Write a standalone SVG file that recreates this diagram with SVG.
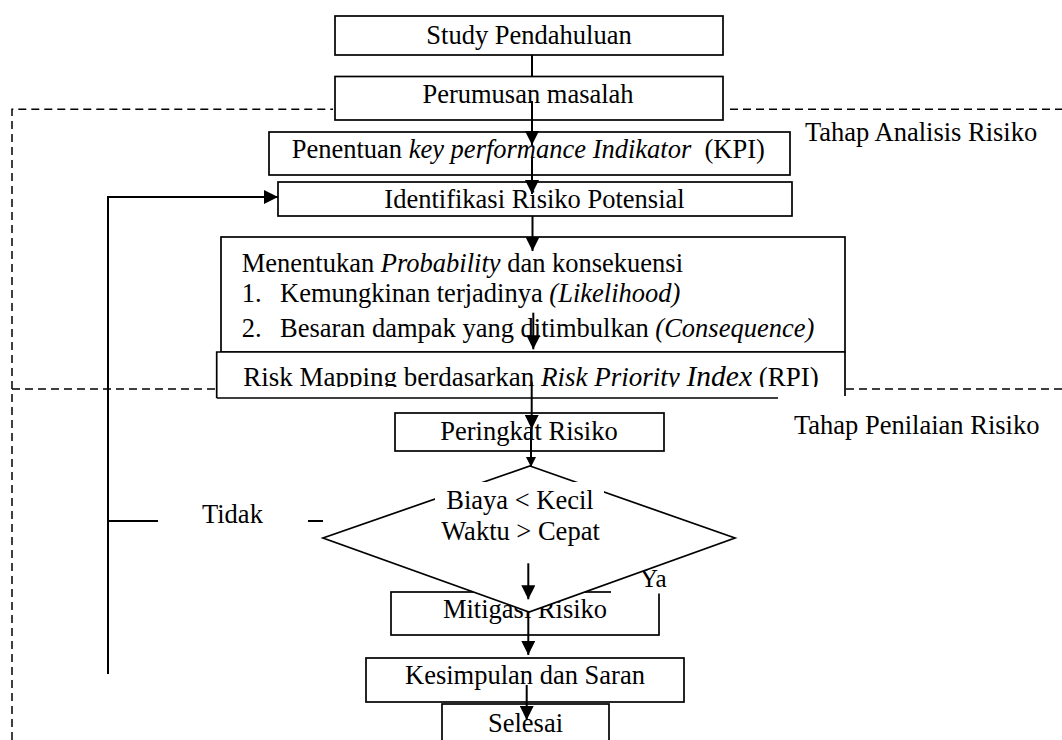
<svg xmlns="http://www.w3.org/2000/svg" width="1062" height="740" viewBox="0 0 1062 740">
<style>
.t{font-family:"Liberation Serif","Times New Roman",serif;font-size:26.5px;fill:#000}
.c{text-anchor:middle}
.i{font-style:italic}
.box{fill:#fff;stroke:#000;stroke-width:1.7}
.ln{fill:none;stroke:#000;stroke-width:1.7}
.dash{fill:none;stroke:#000;stroke-width:1.5;stroke-dasharray:8 5}
.con{fill:none;stroke:#000;stroke-width:2}
.ar{marker-end:url(#arr)}
</style>
<defs>
<marker id="arr" viewBox="0 0 14 14" refX="14" refY="7" markerWidth="14" markerHeight="14" markerUnits="userSpaceOnUse" orient="auto"><path d="M0,0 L14,7 L0,14 z" fill="#000"/></marker>
<marker id="arrs" viewBox="0 0 14 14" refX="14" refY="7" markerWidth="10" markerHeight="11" markerUnits="userSpaceOnUse" orient="auto"><path d="M0,0 L14,7 L0,14 z" fill="#000"/></marker>
<clipPath id="rmclip"><rect x="210" y="350" width="640" height="37"/></clipPath>
</defs>
<rect width="1062" height="740" fill="#fff"/>
<g id="boundaries">
<path class="dash" d="M12,740 V109.3 H333"/>
<path class="dash" d="M730,109.3 H1062"/>
<path class="dash" d="M12,389 H216"/>
<path class="dash" d="M846,389 H1062"/>
</g>
<g id="n-study"><rect class="box" x="335" y="16" width="388" height="39"/><text class="t c" x="529" y="43.5">Study Pendahuluan</text></g>
<g id="n-perumusan"><rect class="box" x="335" y="76.5" width="388" height="43.5"/><text class="t c" x="528" y="102.7">Perumusan masalah</text></g>
<g id="n-kpi"><rect class="box" x="269" y="132" width="521" height="43"/><text class="t" x="291.7" y="158.3">Penentuan <tspan class="i">key performance Indikator</tspan>&#160; (KPI)</text></g>
<g id="n-identifikasi"><rect class="box" x="278" y="182" width="514" height="34"/><text class="t c" x="534.5" y="208.3">Identifikasi Risiko Potensial</text></g>
<g id="n-probability"><rect class="box" x="221" y="237" width="624" height="115"/>
<text class="t" x="241.7" y="271.7">Menentukan <tspan class="i">Probability</tspan> dan konsekuensi</text>
<text class="t" y="301.7"><tspan x="241.7">1.</tspan><tspan x="280">Kemungkinan terjadinya </tspan><tspan class="i">(Likelihood)</tspan></text>
<text class="t" y="337.3"><tspan x="241.7">2.</tspan><tspan x="280">Besaran dampak yang ditimbulkan </tspan><tspan class="i">(Consequence)</tspan></text>
</g>
<g id="n-riskmapping"><rect x="216.7" y="352" width="628.3" height="46" fill="#fff"/>
<path class="ln" d="M216.7,398 V352 H845 V396 M216.7,398 H778"/>
<text class="t" x="243.3" y="386" style="font-size:27px" clip-path="url(#rmclip)">Risk Mapping berdasarkan <tspan class="i">Risk Priority </tspan><tspan class="i" style="font-size:29.5px">Index</tspan> (RPI)</text>
</g>
<g id="n-peringkat"><rect class="box" x="395" y="413" width="269" height="38"/><text class="t c" x="529" y="440">Peringkat Risiko</text></g>
<g id="n-mitigasi"><rect class="box" x="391" y="592" width="268" height="43"/><text class="t c" x="525" y="618.3">Mitigasi Risiko</text></g>
<g id="l-ya"><rect x="611" y="565" width="62" height="28.5" fill="#fff"/><text class="t" x="640" y="587" style="font-size:25px">Ya</text></g>
<g id="n-keputusan"><polygon class="box" points="530,466 735,538 529,612 323,538"/><rect x="435" y="482" width="169" height="80" fill="#fff"/>
<text class="t c" x="520" y="509.3">Biaya &lt; Kecil</text><text class="t c" x="520.5" y="540">Waktu &gt; Cepat</text></g>
<g id="n-kesimpulan"><rect class="box" x="366" y="658" width="318" height="44"/><text class="t c" x="525" y="684.3">Kesimpulan dan Saran</text></g>
<g id="n-selesai"><rect class="box" x="442" y="704" width="167" height="50"/><text class="t c" x="525.5" y="731.7">Selesai</text></g>
<g id="l-tahap"><text class="t" x="805" y="141">Tahap Analisis Risiko</text><text class="t" x="794" y="433.6">Tahap Penilaian Risiko</text></g>
<g id="connectors">
<line class="con" x1="532" y1="55" x2="532" y2="77"/>
<line class="con ar" x1="532" y1="101" x2="532" y2="145"/>
<line class="con ar" x1="532" y1="158" x2="532" y2="194"/>
<line class="con ar" x1="532.5" y1="216" x2="532.5" y2="251"/>
<line class="con ar" x1="533.3" y1="312.7" x2="533.3" y2="349.3"/>
<line class="con ar" x1="531.7" y1="381.7" x2="531.7" y2="429"/>
<line class="con" x1="531" y1="429" x2="531" y2="467" style="marker-end:url(#arrs)"/>
<line class="con ar" x1="528.3" y1="563.3" x2="528.3" y2="599.3"/>
<line class="con ar" x1="528.3" y1="612" x2="528.3" y2="655"/>
<line class="con ar" x1="526.7" y1="685" x2="526.7" y2="720"/>
<path class="con" d="M323,521 H108"/>
<path class="con ar" d="M108,674 V197 H278"/>
</g>
<g id="l-tidak"><rect x="158" y="505" width="150" height="30" fill="#fff"/><text class="t" x="202" y="522.5">Tidak</text></g>
</svg>
